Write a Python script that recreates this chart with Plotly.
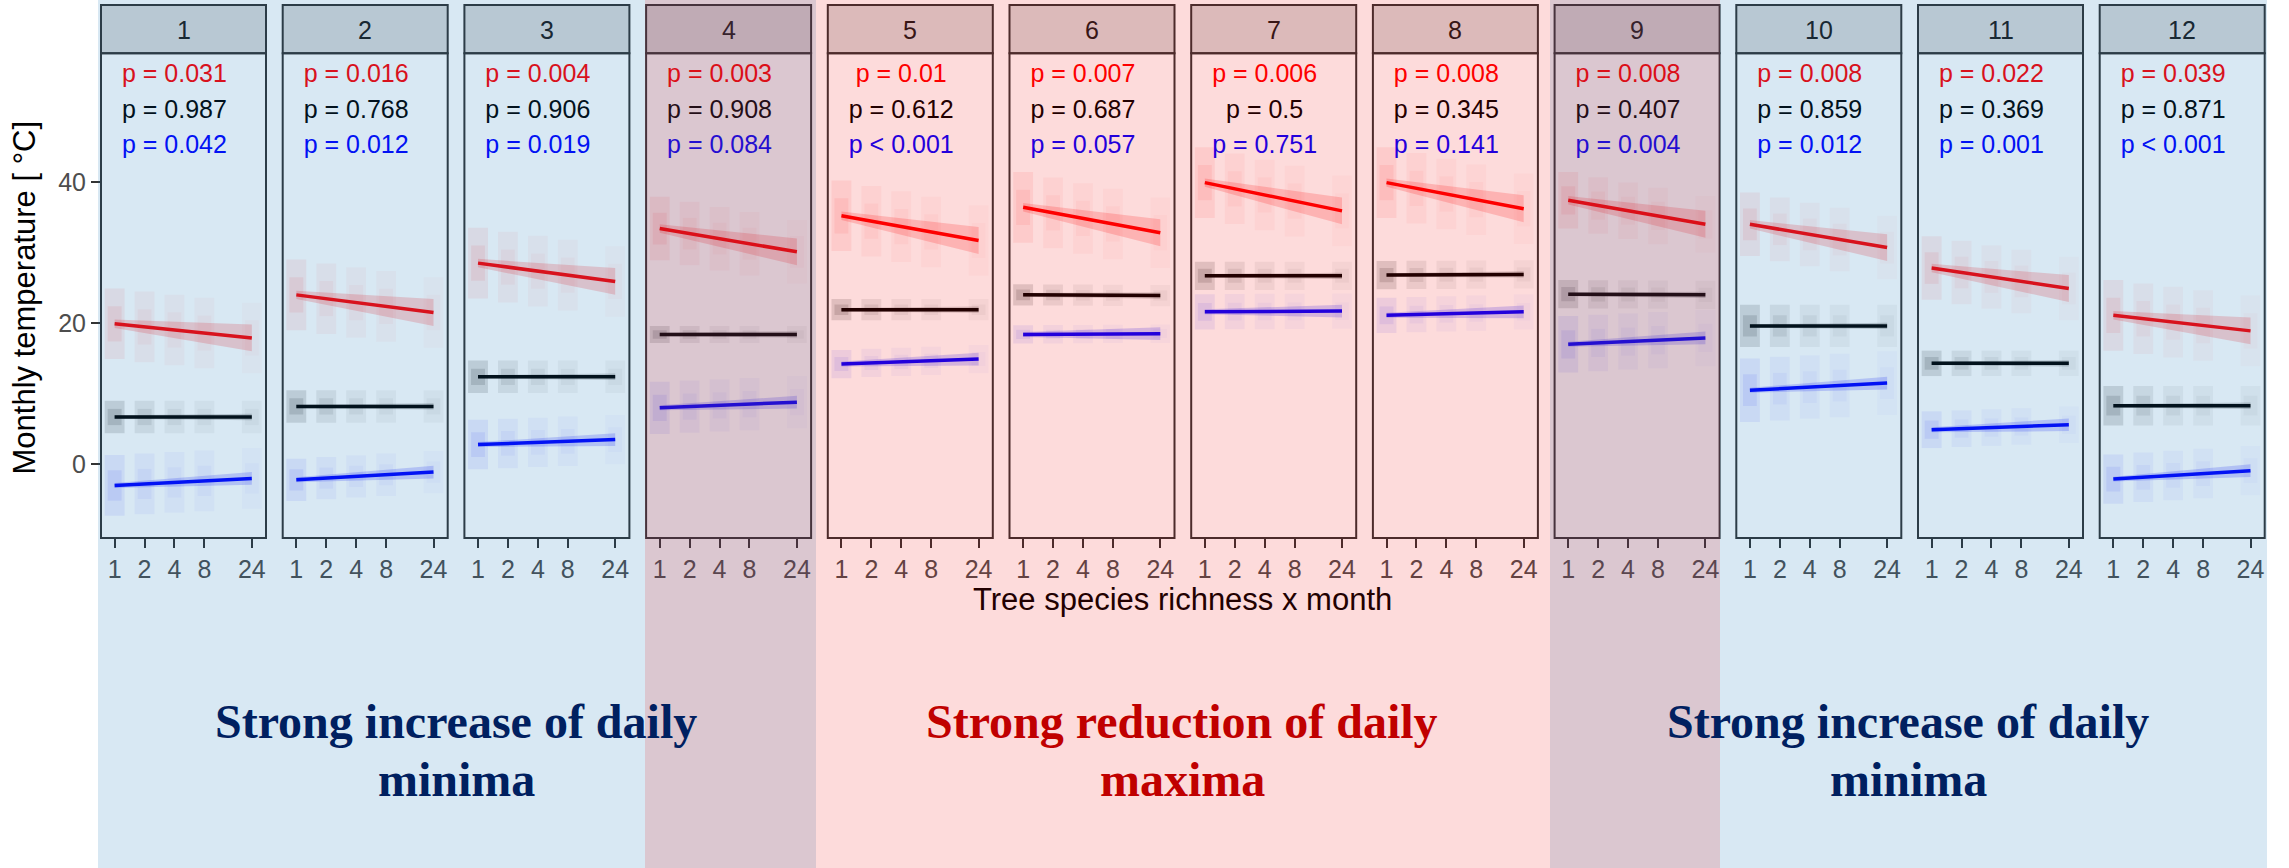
import math
import plotly.graph_objects as go

# ---------------------------------------------------------------- data
MONTHS = list(range(1, 13))
RICHNESS = [1, 2, 4, 8, 24]
RICHNESS_LABELS = ["1", "2", "4", "8", "24"]

P_MAX = ["p = 0.031", "p = 0.016", "p = 0.004", "p = 0.003", "p = 0.01", "p = 0.007",
         "p = 0.006", "p = 0.008", "p = 0.008", "p = 0.008", "p = 0.022", "p = 0.039"]
P_MEAN = ["p = 0.987", "p = 0.768", "p = 0.906", "p = 0.908", "p = 0.612", "p = 0.687",
          "p = 0.5", "p = 0.345", "p = 0.407", "p = 0.859", "p = 0.369", "p = 0.871"]
P_MIN = ["p = 0.042", "p = 0.012", "p = 0.019", "p = 0.084", "p < 0.001", "p = 0.057",
         "p = 0.751", "p = 0.141", "p = 0.004", "p = 0.012", "p = 0.001", "p < 0.001"]

# fitted monthly temperature (deg C) at richness 1 and at richness 24
MAX_FIT_1 = [19.9, 24.0, 28.5, 33.4, 35.2, 36.4, 39.9, 39.9, 37.4, 34.0, 27.8, 21.1]
MAX_FIT_24 = [17.9, 21.5, 25.9, 30.1, 31.7, 32.8, 35.9, 36.2, 34.0, 30.7, 24.9, 18.9]
MEAN_FIT_1 = [6.7, 8.2, 12.4, 18.4, 21.9, 24.0, 26.7, 26.8, 24.1, 19.6, 14.3, 8.3]
MEAN_FIT_24 = [6.7, 8.2, 12.4, 18.4, 21.9, 23.9, 26.7, 26.9, 24.0, 19.6, 14.3, 8.3]
MIN_FIT_1 = [-3.0, -2.2, 2.8, 8.0, 14.2, 18.4, 21.6, 21.1, 17.0, 10.5, 4.9, -2.1]
MIN_FIT_24 = [-2.0, -1.1, 3.5, 8.8, 14.9, 18.5, 21.7, 21.6, 17.9, 11.5, 5.6, -0.9]

# confidence band half-width (deg C) at richness 1 and 24
MAX_CI = [0.6, 1.9]
MEAN_CI = [0.25, 0.45]
MIN_CI = [0.35, 0.9]

# half-range of the plot observations around the fit (deg C)
MAX_SPREAD = [5.0, 5.0, 5.0, 4.5, 5.0, 5.0, 5.0, 5.0, 4.0, 4.5, 4.5, 5.0]
MEAN_SPREAD = [2.3, 2.3, 2.3, 1.2, 1.5, 1.5, 2.0, 2.0, 2.0, 3.0, 1.8, 2.8]
MIN_SPREAD = [4.3, 3.0, 3.5, 3.7, 2.0, 1.3, 2.5, 2.5, 4.0, 4.5, 2.6, 3.5]

# ---------------------------------------------------------------- layout geometry
W, H = 2289, 868
PANEL_LEFT0, PANEL_PITCH, PANEL_W = 101.0, 181.7, 165.0
PANEL_TOP, PANEL_BOTTOM, STRIP_TOP = 53.3, 538.0, 5.0
X_RANGE = [-0.137, 1.523]          # log10 units
Y_RANGE = [-10.44, 58.22]

SANS = "Liberation Sans, Arial, sans-serif"
SERIF = "Liberation Serif, Times New Roman, serif"

# translucent highlight bands: blue = minima months, red = maxima months
BLUE_BAND, BLUE_ALPHA, BLUE_SPANS = (11, 111, 180), 0.16, ((98, 816), (1550, 2267))
RED_BAND, RED_ALPHA, RED_SPANS = (240, 0, 0), 0.14, ((645, 1720),)


def px_x(px):
    return px / W


def px_y(py):
    return 1 - py / H


def rgba(rgb, a):
    return "rgba(%d,%d,%d,%.3f)" % (rgb[0], rgb[1], rgb[2], a)


def banded(rgb, px):
    """Colour of `rgb` as seen through the highlight bands at horizontal pixel px."""
    out = list(rgb)
    for band, alpha, spans in ((BLUE_BAND, BLUE_ALPHA, BLUE_SPANS), (RED_BAND, RED_ALPHA, RED_SPANS)):
        if any(a <= px <= b for a, b in spans):
            out = [alpha * band[c] + (1 - alpha) * out[c] for c in range(3)]
    return "rgb(%d,%d,%d)" % tuple(round(v) for v in out)


SERIES = [
    dict(rgb=(255, 0, 0), f1=MAX_FIT_1, f24=MAX_FIT_24, ci=MAX_CI, spread=MAX_SPREAD,
         p=P_MAX, py=55, cloud=[0.07, 0.045, 0.035, 0.03, 0.025]),
    dict(rgb=(0, 0, 0), f1=MEAN_FIT_1, f24=MEAN_FIT_24, ci=MEAN_CI, spread=MEAN_SPREAD,
         p=P_MEAN, py=50, cloud=[0.13, 0.08, 0.05, 0.04, 0.035]),
    dict(rgb=(0, 0, 255), f1=MIN_FIT_1, f24=MIN_FIT_24, ci=MIN_CI, spread=MIN_SPREAD,
         p=P_MIN, py=45, cloud=[0.07, 0.045, 0.035, 0.03, 0.025]),
]

fig = go.Figure()
shapes = []
annotations = []
layout_axes = {}
JIT = 0.1  # horizontal half-width of an observation column, log10 units

for i, month in enumerate(MONTHS):
    k = i + 1
    xa = "x" if k == 1 else "x%d" % k
    left = PANEL_LEFT0 + i * PANEL_PITCH
    right = left + PANEL_W

    for s in SERIES:
        f1, f24 = s["f1"][i], s["f24"][i]
        slope = (f24 - f1) / math.log10(24)
        # observation columns: a faint full-range column and a denser core
        for j, r in enumerate(RICHNESS):
            c = f1 + slope * math.log10(r)
            for frac, wfrac in ((1.0, 1.0), (0.5, 0.7)):
                half = s["spread"][i] * frac
                x0, x1 = r * 10 ** (-JIT * wfrac), r * 10 ** (JIT * wfrac)
                fig.add_trace(go.Scatter(
                    x=[x0, x1, x1, x0, x0], y=[c - half, c - half, c + half, c + half, c - half],
                    xaxis=xa, yaxis="y", mode="lines", fill="toself",
                    fillcolor=rgba(s["rgb"], s["cloud"][j]), line=dict(width=0),
                    hoverinfo="skip", showlegend=False))
    for s in SERIES:
        f1, f24 = s["f1"][i], s["f24"][i]
        h1, h24 = s["ci"]
        fig.add_trace(go.Scatter(
            x=[1, 24, 24, 1, 1], y=[f1 + h1, f24 + h24, f24 - h24, f1 - h1, f1 + h1],
            xaxis=xa, yaxis="y", mode="lines", fill="toself",
            fillcolor=rgba(s["rgb"], 0.18), line=dict(width=0),
            hoverinfo="skip", showlegend=False))
        fig.add_trace(go.Scatter(
            x=[1, 24], y=[f1, f24], xaxis=xa, yaxis="y", mode="lines",
            line=dict(color=rgba(s["rgb"], 1), width=3.5),
            hoverinfo="skip", showlegend=False))

    # p-value labels
    fig.add_trace(go.Scatter(
        x=[4, 4, 4], y=[s["py"] for s in SERIES], text=[s["p"][i] for s in SERIES],
        mode="text", textposition="middle center",
        textfont=dict(family=SANS, size=25, color=[rgba(s["rgb"], 1) for s in SERIES]),
        xaxis=xa, yaxis="y", hoverinfo="skip", showlegend=False, cliponaxis=False))

    layout_axes["xaxis" if k == 1 else "xaxis%d" % k] = dict(
        domain=[px_x(left), px_x(right)], type="log", range=X_RANGE, anchor="y",
        tickmode="array", tickvals=RICHNESS, ticktext=RICHNESS_LABELS,
        ticks="outside", ticklen=9, tickwidth=2, tickcolor="#333333",
        tickfont=dict(family=SANS, size=25, color="#4D4D4D"),
        showgrid=False, zeroline=False, showline=False, fixedrange=True)

    # strip, strip label and panel frame
    shapes.append(dict(type="rect", xref="paper", yref="paper", layer="above",
                       x0=px_x(left), x1=px_x(right), y0=px_y(PANEL_TOP), y1=px_y(STRIP_TOP),
                       fillcolor="#D9D9D9", line=dict(color="#333333", width=2)))
    shapes.append(dict(type="rect", xref="paper", yref="paper", layer="above",
                       x0=px_x(left), x1=px_x(right), y0=px_y(PANEL_BOTTOM), y1=px_y(PANEL_TOP),
                       fillcolor="rgba(0,0,0,0)", line=dict(color="#333333", width=2)))
    annotations.append(dict(
        text=str(month), x=px_x((left + right) / 2), y=px_y((STRIP_TOP + PANEL_TOP) / 2 + 1),
        xref="paper", yref="paper", showarrow=False, xanchor="center", yanchor="middle",
        font=dict(family=SANS, size=25, color=banded((26, 26, 26), (left + right) / 2))))

for spans, band, alpha in ((BLUE_SPANS, BLUE_BAND, BLUE_ALPHA), (RED_SPANS, RED_BAND, RED_ALPHA)):
    for x0, x1 in spans:
        shapes.append(dict(type="rect", xref="paper", yref="paper", layer="above",
                           x0=px_x(x0), x1=px_x(x1), y0=0, y1=1,
                           fillcolor=rgba(band, alpha), line=dict(width=0)))

annotations += [
    dict(text="Tree species richness x month", x=px_x(1182), y=px_y(599),
         xref="paper", yref="paper", showarrow=False, xanchor="center", yanchor="middle",
         font=dict(family=SANS, size=31, color=banded((0, 0, 0), 1182))),
    dict(text="Monthly temperature [ °C]", x=px_x(24), y=px_y(297.5), textangle=-90,
         xref="paper", yref="paper", showarrow=False, xanchor="center", yanchor="middle",
         font=dict(family=SANS, size=31, color="#000000")),
]
BAND_TEXT = [
    ("Strong increase of daily", "minima", 456, "#002060"),
    ("Strong reduction of daily", "maxima", 1182, "#C00000"),
    ("Strong increase of daily", "minima", 1908, "#002060"),
]
for line1, line2, cx, col in BAND_TEXT:
    for txt, cy in ((line1, 721), (line2, 779)):
        annotations.append(dict(
            text="<b>%s</b>" % txt, x=px_x(cx), y=px_y(cy), xref="paper", yref="paper",
            showarrow=False, xanchor="center", yanchor="middle",
            font=dict(family=SERIF, size=48, color=col)))

fig.update_layout(
    width=W, height=H, autosize=False,
    margin=dict(l=0, r=0, t=0, b=0),
    paper_bgcolor="white", plot_bgcolor="rgba(0,0,0,0)",
    showlegend=False,
    yaxis=dict(domain=[px_y(PANEL_BOTTOM), px_y(PANEL_TOP)], range=Y_RANGE, anchor="x",
               tickmode="array", tickvals=[0, 20, 40], ticks="outside", ticklen=9,
               tickwidth=2, tickcolor="#333333",
               tickfont=dict(family=SANS, size=25, color="#4D4D4D"),
               showgrid=False, zeroline=False, showline=False, fixedrange=True),
    shapes=shapes,
    annotations=annotations,
    **layout_axes,
)

fig.write_html("out.html")
